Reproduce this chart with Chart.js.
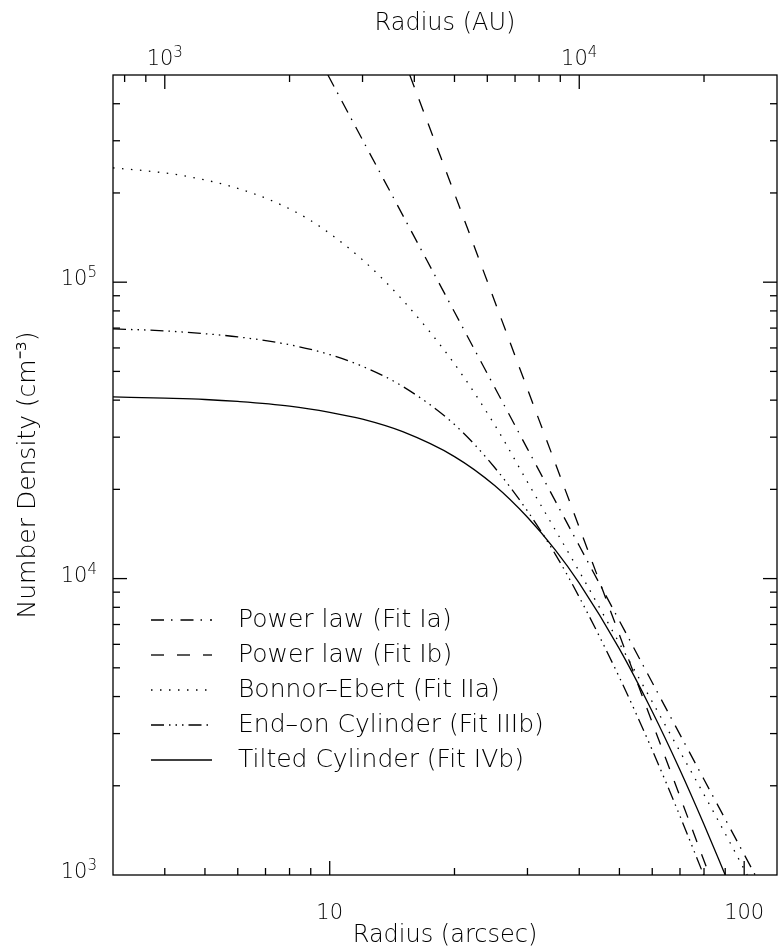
<!DOCTYPE html>
<html><head><meta charset="utf-8">
<script src="https://cdn.jsdelivr.net/npm/chart.js@4.4.1/dist/chart.umd.min.js"></script>
<style>html,body{margin:0;padding:0;background:#fff;}canvas{display:block;}</style>
</head><body>
<canvas id="c" width="778" height="948"></canvas>
<script>
// ---- data: radius (arcsec) vs number density (cm^-3) ----
const radiusIa   = [9.9, 15, 20, 30, 40, 50, 60, 80, 106.3];
const densityIa  = [5.0e5, 1.684e5, 7.93e4, 2.74e4, 1.29e4, 7.2e3, 4.46e3, 2.10e3, 1.0e3];
const radiusIb   = [15.6, 20, 30, 40, 50, 60, 70, 82.4];
const densityIb  = [5.0e5, 1.99e5, 4.36e4, 1.49e4, 6.46e3, 3.27e3, 1.84e3, 1.0e3];
const radiusIIa  = [3, 3.55, 4.16, 4.87, 5.68, 6.62, 7.66, 8.83, 10, 12, 15, 20, 25, 30.4, 39.8, 50, 60, 70, 85, 101.7];
const densityIIa = [2.43e5, 2.38e5, 2.32e5, 2.23e5, 2.12e5, 1.98e5, 1.82e5, 1.64e5, 1.46e5, 1.19e5, 8.7e4, 5.3e4, 3.3e4, 2.05e4, 1.07e4, 6.05e3, 3.84e3, 2.61e3, 1.6e3, 1.0e3];
const radiusIIIb = [3, 4, 5, 6, 8, 10, 12, 15, 20, 25, 30, 35, 40, 50, 60, 70, 80];
const densityIIIb= [6.96e4, 6.85e4, 6.70e4, 6.54e4, 6.15e4, 5.70e4, 5.20e4, 4.45e4, 3.31e4, 2.37e4, 1.69e4, 1.21e4, 8.66e3, 4.64e3, 2.64e3, 1.58e3, 993];
const radiusIVb  = [3, 4, 5, 6, 8, 10, 12, 15, 20, 25, 30, 35, 40, 50, 60, 70, 80, 90];
const densityIVb = [4.1e4, 4.06e4, 4.02e4, 3.96e4, 3.82e4, 3.64e4, 3.45e4, 3.13e4, 2.58e4, 2.06e4, 1.61e4, 1.25e4, 9.65e3, 5.79e3, 3.56e3, 2.26e3, 1.48e3, 1.0e3];
const seriesLabels = ['Power law (Fit Ia)', 'Power law (Fit Ib)', 'Bonnor\u2013Ebert (Fit IIa)', 'End\u2013on Cylinder (Fit IIIb)', 'Tilted Cylinder (Fit IVb)'];

// ---- axes / tick labels ----
const xRange = [3, 120];            // arcsec
const auRange = [750, 30000];       // AU (top axis)
const yRange = [1e3, 5e5];
const xTickValues = [3,4,5,6,7,8,9,10,20,30,40,50,60,70,80,90,100];
const xTickLabels = {10: '10', 100: '100'};
const auTickValues = [800,900,1000,2000,3000,4000,5000,6000,7000,8000,9000,10000,20000];
const auLabelValues = [1000, 10000];        // shown as 10^3, 10^4
const yTickValues = [1e3,2e3,3e3,4e3,5e3,6e3,7e3,8e3,9e3,1e4,2e4,3e4,4e4,5e4,6e4,7e4,8e4,9e4,1e5,2e5,3e5,4e5];
const yLabelValues = [1000, 10000, 100000]; // shown as 10^3, 10^4, 10^5

const FONT = '"DejaVu Sans"';
const TXT = '#000';

const zip = (xs, ys) => xs.map((x, i) => ({x, y: ys[i]}));
const isMajor = v => Math.abs(Math.log10(v) - Math.round(Math.log10(v))) < 1e-9;

const styles = [
  {dash: [13, 7, 1.5, 8]},
  {dash: [13, 13]},
  {dash: [1.5, 7.5]},
  {dash: [13, 5, 1.5, 5, 1.5, 5, 1.5, 5]},
  {dash: []}
];
const series = [[radiusIa, densityIa],[radiusIb, densityIb],[radiusIIa, densityIIa],[radiusIIIb, densityIIIb],[radiusIVb, densityIVb]];

const datasets = series.map((s, i) => ({
  label: seriesLabels[i],
  data: zip(s[0], s[1]),
  borderColor: '#000',
  borderWidth: 1.3,
  borderDash: styles[i].dash,
  borderCapStyle: 'butt',
  pointRadius: 0,
  fill: false,
  cubicInterpolationMode: 'monotone',
  xAxisID: 'x', yAxisID: 'y'
}));

// power-of-ten label: "10" with a raised exponent
function drawPow(ctx, value, anchorX, baseY, align) {
  const exp = String(Math.round(Math.log10(value)));
  const baseFont = '200 21px ' + FONT, expFont = '200 15px ' + FONT;
  ctx.font = baseFont; const wb = ctx.measureText('10').width;
  ctx.font = expFont; const we = ctx.measureText(exp).width;
  const x0 = align === 'right' ? anchorX - wb - we : anchorX - (wb + we) / 2;
  ctx.textAlign = 'left'; ctx.textBaseline = 'alphabetic';
  ctx.font = baseFont; ctx.fillText('10', x0, baseY);
  ctx.font = expFont; ctx.fillText(exp, x0 + wb, baseY - 8);
}

const frameTicks = {
  id: 'frameTicks',
  afterDatasetsDraw(chart) {
    const {ctx, chartArea: a, scales} = chart;
    const MAJ = 14, MIN = 7;
    ctx.save();
    ctx.strokeStyle = '#000';
    ctx.lineWidth = 1.3;
    ctx.setLineDash([]);
    ctx.strokeRect(a.left, a.top, a.right - a.left, a.bottom - a.top);
    const line = (x1, y1, x2, y2) => { ctx.beginPath(); ctx.moveTo(x1, y1); ctx.lineTo(x2, y2); ctx.stroke(); };
    xTickValues.forEach(v => { const p = scales.x.getPixelForValue(v); if (p <= a.left + 0.5 || p >= a.right - 0.5) return; line(p, a.bottom, p, a.bottom - (isMajor(v) ? MAJ : MIN)); });
    auTickValues.forEach(v => { const p = scales.x2.getPixelForValue(v); if (p <= a.left + 0.5 || p >= a.right - 0.5) return; line(p, a.top, p, a.top + (isMajor(v) ? MAJ : MIN)); });
    yTickValues.forEach(v => { const p = scales.y.getPixelForValue(v); if (p <= a.top + 0.5 || p >= a.bottom - 0.5) return; const L = isMajor(v) ? MAJ : MIN; line(a.left, p, a.left + L, p); line(a.right, p, a.right - L, p); });

    // tick labels with exponents
    ctx.fillStyle = TXT;
    yLabelValues.forEach(v => drawPow(ctx, v, a.left - 16, scales.y.getPixelForValue(v) + 3, 'right'));
    auLabelValues.forEach(v => drawPow(ctx, v, scales.x2.getPixelForValue(v), a.top - 10, 'center'));

    // legend inside the plot
    const lx1 = 151, lx2 = 212, tx = 238, y0 = 620, dy = 35;
    ctx.font = '200 25px ' + FONT;
    ctx.textAlign = 'left';
    ctx.textBaseline = 'middle';
    chart.data.datasets.forEach((d, i) => {
      const y = y0 + i * dy;
      ctx.setLineDash(d.borderDash);
      ctx.lineWidth = d.borderWidth;
      line(lx1, y, lx2, y);
      ctx.fillText(d.label, tx, y);
    });
    ctx.restore();
  }
};

const tickFont = {family: FONT, size: 21, weight: '200'};
const titleFont = {family: FONT, size: 24, weight: '200', lineHeight: 1};
const noPad = s => { s.paddingLeft = 0; s.paddingRight = 0; s.paddingTop = 0; s.paddingBottom = 0; };

new Chart(document.getElementById('c'), {
  type: 'line',
  data: {datasets},
  options: {
    responsive: false,
    animation: false,
    devicePixelRatio: 1,
    layout: {padding: {left: 0, right: 1, top: 0, bottom: 0}},
    plugins: {legend: {display: false}, tooltip: {enabled: false}},
    scales: {
      x: {
        type: 'logarithmic', position: 'bottom', min: xRange[0], max: xRange[1],
        afterBuildTicks: s => { s.ticks = xTickValues.map(v => ({value: v, major: isMajor(v)})); },
        afterFit: s => { s.height = 73; noPad(s); },
        grid: {display: false, drawTicks: false}, border: {display: false},
        ticks: {autoSkip: false, maxRotation: 0, padding: 26, color: TXT, font: tickFont, callback: v => xTickLabels[v] || ''},
        title: {display: true, text: 'Radius (arcsec)', color: TXT, font: titleFont, padding: {top: 0, bottom: 0}}
      },
      x2: {
        type: 'logarithmic', position: 'top', min: auRange[0], max: auRange[1],
        afterBuildTicks: s => { s.ticks = auTickValues.map(v => ({value: v, major: isMajor(v)})); },
        afterFit: s => { s.height = 75; noPad(s); },
        grid: {display: false, drawTicks: false}, border: {display: false},
        ticks: {display: false},
        title: {display: true, text: 'Radius (AU)', color: TXT, font: titleFont, padding: {top: 12, bottom: 0}}
      },
      y: {
        type: 'logarithmic', position: 'left', min: yRange[0], max: yRange[1],
        afterBuildTicks: s => { s.ticks = yTickValues.map(v => ({value: v, major: isMajor(v)})); },
        afterFit: s => { s.width = 113; noPad(s); },
        grid: {display: false, drawTicks: false}, border: {display: false},
        ticks: {display: false},
        title: {display: true, text: 'Number Density (cm\u207B\u00B3)', color: TXT, font: {family: FONT, size: 25, weight: '200', lineHeight: 1}, padding: {top: 16, bottom: 0}}
      }
    }
  },
  plugins: [frameTicks]
});
</script>
</body></html>
